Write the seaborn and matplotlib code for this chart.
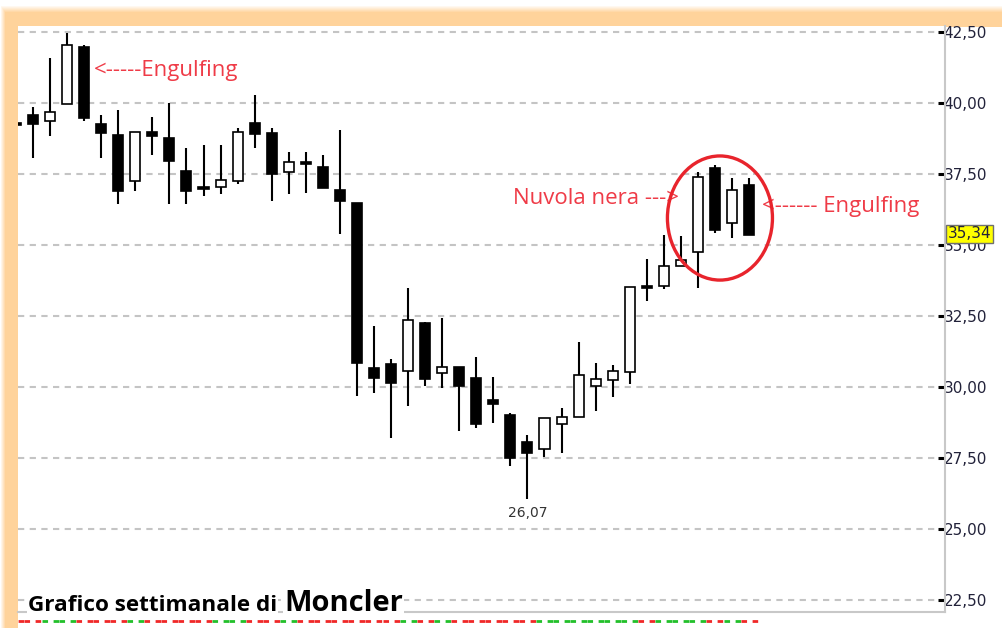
import numpy as np
import pandas as pd
import matplotlib
matplotlib.use("Agg")
import matplotlib.pyplot as plt
import matplotlib.transforms as mtransforms
from matplotlib.patches import Ellipse
import seaborn as sns

# weekly candles for Moncler (first one is the partially visible week at the left edge)
opens = [39.25,
         39.58, 39.37, 39.96, 41.97, 39.26, 38.87, 37.25, 38.98, 38.77, 37.61,
         37.01, 37.04, 37.25, 39.30, 38.94, 37.57, 37.92, 37.75, 36.94, 36.48,
         30.67, 30.81, 30.56, 32.25, 30.49, 30.70, 30.32, 29.54, 29.01, 28.06,
         27.82, 28.70, 28.94, 30.04, 30.25, 30.53, 33.54, 33.56, 34.26, 34.75,
         37.71, 35.77, 37.11]
closes = [39.21,
          39.26, 39.68, 42.04, 39.47, 38.94, 36.90, 38.98, 38.84, 37.96, 36.90,
          36.97, 37.29, 38.98, 38.91, 37.50, 37.92, 37.85, 37.01, 36.55, 30.85,
          30.32, 30.14, 32.36, 30.28, 30.70, 30.04, 28.70, 29.40, 27.50, 27.68,
          28.91, 28.94, 30.42, 30.28, 30.56, 33.52, 33.50, 34.26, 34.47, 37.39,
          35.53, 36.94, 35.34]
highs = [39.60,
         39.86, 41.58, 42.46, 42.04, 39.58, 39.75, 38.98, 39.51, 40.00, 38.42,
         38.52, 38.52, 39.12, 40.28, 39.12, 38.27, 38.27, 38.17, 39.05, 36.48,
         32.15, 30.99, 33.49, 32.29, 32.43, 30.70, 31.06, 30.35, 29.08, 28.31,
         28.91, 29.26, 31.58, 30.85, 30.77, 33.52, 34.51, 35.35, 35.32, 37.57,
         37.82, 37.36, 37.36]
lows = [38.90,
        38.06, 38.84, 39.96, 39.37, 38.06, 36.44, 36.90, 38.17, 36.44, 36.44,
        36.73, 36.80, 37.15, 38.42, 36.55, 36.80, 36.83, 37.01, 35.39, 29.68,
        29.79, 28.20, 29.33, 30.04, 29.96, 28.45, 28.56, 28.73, 27.22, 26.07,
        27.54, 27.68, 28.94, 29.15, 29.65, 30.11, 33.03, 33.45, 34.26, 33.49,
        35.42, 35.25, 35.34]

y_ticks = [22.5, 25.0, 27.5, 30.0, 32.5, 35.0, 37.5, 40.0, 42.5]
last_price = 35.34
min_price = 26.07

df = pd.DataFrame({"open": opens, "high": highs, "low": lows, "close": closes})
df["x"] = np.arange(len(df))
df["up"] = df["close"] >= df["open"]

W, H = 1002, 628
sns.set_theme(style="white")
plt.rcParams["font.family"] = ["DejaVu Sans"]

fig = plt.figure(figsize=(W / 100, H / 100), dpi=100)
fig.patch.set_facecolor("white")

# orange frame (soft band on top and left)
bg = fig.add_axes([0, 0, 1, 1], zorder=-5)
yy, xx = np.mgrid[0:H, 0:W]
a_top = np.clip((yy - 5) / 7.0, 0, 1)
a_left = np.clip((xx - 0) / 5.0, 0, 1)
mask = (yy < 27) | (xx < 18)
alpha = np.where(mask, np.minimum(a_top, a_left), 0.0)
img = np.zeros((H, W, 4))
img[..., 0] = 1.0
img[..., 1] = 0.83
img[..., 2] = 0.61
img[..., 3] = alpha
bg.imshow(img, aspect="auto", interpolation="bilinear")
bg.axis("off")

def fx(px):
    return px / W

def fy(py):
    return 1 - py / H

ax = fig.add_axes([fx(18), fy(612), fx(945 - 18), (612 - 26) / H])
ax.set_facecolor("white")

# candles
body_w = 0.59
ax.vlines(df["x"], df["low"], df["high"], color="black", linewidth=1.5, zorder=2)
bottoms = np.minimum(df["open"], df["close"])
heights = np.maximum((df["close"] - df["open"]).abs(), 0.07)
face = ["white" if u else "black" for u in df["up"]]
ax.bar(df["x"], heights, bottom=bottoms, width=body_w, color=face,
       edgecolor="black", linewidth=1.2, zorder=3)

ax.set_xlim(0.12, 54.49)
ax.set_ylim(22.08, 42.71)

# grid + right axis
ax.set_yticks(y_ticks)
ax.set_yticklabels([f"{v:.2f}".replace(".", ",") for v in y_ticks])
ax.yaxis.tick_right()
ax.yaxis.grid(True, color="#c4c4c4", linestyle=(0, (3, 2.6)), linewidth=1.5)
ax.xaxis.grid(False)
ax.set_xticks([])
ax.tick_params(axis="y", direction="in", length=5, width=2.2, color="black",
               labelsize=11, labelcolor="#22223a", pad=-1, right=True, left=False)
for s in ["left", "top"]:
    ax.spines[s].set_visible(False)
ax.spines["right"].set_color("#c8c8c8")
ax.spines["right"].set_linewidth(1.5)
ax.spines["bottom"].set_color("#c8c8c8")
ax.spines["bottom"].set_linewidth(1.5)

# last price marker on the axis
trans = mtransforms.blended_transform_factory(ax.transAxes, ax.transData)
ax.text(1.003, last_price + 0.05, f"{last_price:.2f}".replace(".", ","), transform=trans,
        fontsize=11, color="#22223a", va="center", ha="left", zorder=10, clip_on=False,
        bbox=dict(boxstyle="square,pad=0.12", facecolor="#ffff00", edgecolor="#707070", linewidth=1))

# low label
i_min = int(np.argmin(df["low"]))
ax.text(df["x"][i_min], min_price - 0.5, f"{min_price:.2f}".replace(".", ","),
        ha="center", va="center", fontsize=10, color="#333333")

# annotations
red = "#ef3b47"
ann_font = dict(fontsize=16, color=red, family=["Open Sans", "DejaVu Sans"], va="center", ha="left")
ax.text(4.58, 41.16, "<-----Engulfing", **ann_font)
ax.text(29.15, 36.62, "Nuvola nera --->", **ann_font)
ax.text(43.76, 36.34, "<------ Engulfing", **ann_font)
ax.add_patch(Ellipse((41.29, 35.95), 6.16, 4.37, fill=False, edgecolor="#e8242c",
                     linewidth=2.4, zorder=6))

# title
title_box = dict(boxstyle="square,pad=0.05", facecolor="white", edgecolor="none")
fig.text(fx(28), fy(611), "Grafico settimanale di", fontsize=16.2, fontweight="bold",
         family=["Open Sans", "DejaVu Sans"], color="black", va="baseline", ha="left",
         bbox=title_box)
fig.text(fx(284), fy(611), "Moncler", fontsize=21, fontweight="bold",
         family=["Open Sans", "DejaVu Sans"], color="black", va="baseline", ha="left",
         bbox=title_box)

# lower strip (cut off indicator panel)
ax2 = fig.add_axes([fx(18), 0, fx(945 - 18), 12 / H])
strip_col = ["#22c02a" if u else "#f02828" for u in df["up"]]
ax2.hlines([0.55] * len(df), df["x"] - 0.5, df["x"] + 0.5, colors=strip_col,
           linewidth=2, linestyles=(0, (2, 2)))
ax2.set_xlim(0.12, 54.49)
ax2.set_ylim(0, 1)
ax2.axis("off")

fig.savefig("out.png", dpi=100)
